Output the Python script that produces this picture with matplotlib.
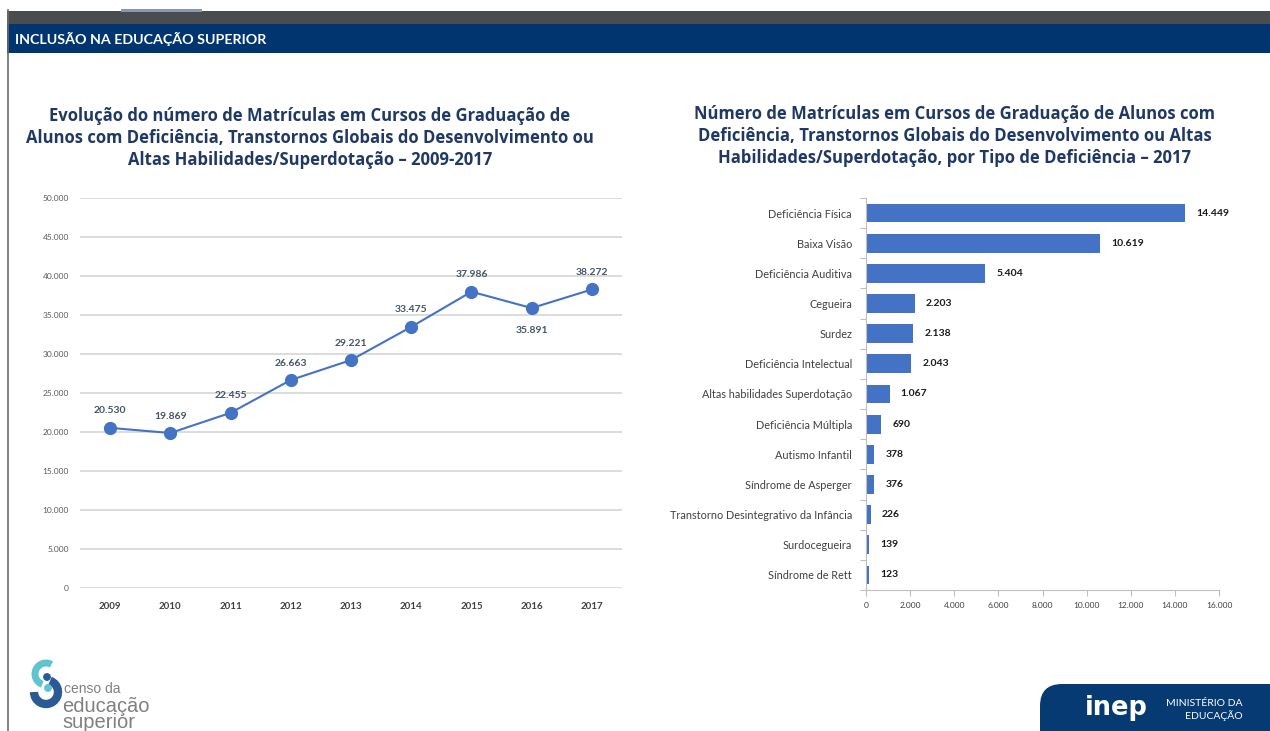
import matplotlib
matplotlib.use("Agg")
import matplotlib.pyplot as plt
from matplotlib.patches import Rectangle, FancyBboxPatch, Arc, Circle
import numpy as np

plt.rcParams['font.family'] = ['Lato', 'DejaVu Sans']

# ---- data ----
years = ["2009", "2010", "2011", "2012", "2013", "2014", "2015", "2016", "2017"]
matriculas = [20530, 19869, 22455, 26663, 29221, 33475, 37986, 35891, 38272]
year_labels = ["20.530", "19.869", "22.455", "26.663", "29.221", "33.475", "37.986", "35.891", "38.272"]

tipos = ["Deficiência Física", "Baixa Visão", "Deficiência Auditiva", "Cegueira", "Surdez",
         "Deficiência Intelectual", "Altas habilidades Superdotação", "Deficiência Múltipla",
         "Autismo Infantil", "Síndrome de Asperger", "Transtorno Desintegrativo da Infância",
         "Surdocegueira", "Síndrome de Rett"]
tipo_vals = [14449, 10619, 5404, 2203, 2138, 2043, 1067, 690, 378, 376, 226, 139, 123]
tipo_labels = ["14.449", "10.619", "5.404", "2.203", "2.138", "2.043", "1.067", "690", "378",
               "376", "226", "139", "123"]

left_yticks = [0, 5000, 10000, 15000, 20000, 25000, 30000, 35000, 40000, 45000, 50000]
right_xticks = [0, 2000, 4000, 6000, 8000, 10000, 12000, 14000, 16000]

def fmt(v):
    return f"{v:,}".replace(",", ".")

W, H = 1270, 731
fig = plt.figure(figsize=(W / 100, H / 100), dpi=100)
fig.patch.set_facecolor("white")

def fx(px):
    return px / W

def fy(py):
    return 1 - py / H

# ---- slide chrome ----
bg = fig.add_axes([0, 0, 1, 1], zorder=0)
bg.set_xlim(0, W)
bg.set_ylim(H, 0)
bg.axis("off")
bg.add_patch(Rectangle((7, 11), W - 7, 13, color="#4a4d50", lw=0))
bg.add_patch(Rectangle((121, 9), 81, 3, color="#8a93b8", lw=0))
bg.add_patch(Rectangle((7, 24), W - 7, 29, color="#003570", lw=0))
bg.plot([7.5, 7.5], [10, H], color="#6b6b6b", lw=1.2)
bg.text(15, 39, "INCLUSÃO NA EDUCAÇÃO SUPERIOR", color="white", fontsize=10.3,
        fontweight="bold", va="center", ha="left")

# INEP footer tab
bg.add_patch(FancyBboxPatch((1040, 684), 280, 80, boxstyle="round,pad=0,rounding_size=22",
                            color="#063a72", lw=0))
bg.text(1116, 708, "inep", color="white", fontsize=18.5, fontweight="bold",
        ha="center", va="center", family="DejaVu Sans")
bg.text(1243, 704, "MINISTÉRIO DA", color="white", fontsize=7.5, ha="right", va="center")
bg.text(1243, 716, "EDUCAÇÃO", color="white", fontsize=7.5, ha="right", va="center")

# censo logo
bg.add_patch(Arc((46, 674), 22, 22, theta1=110, theta2=300, color="#5fc3d0", lw=5))
bg.add_patch(Arc((46, 692), 24, 24, theta1=-70, theta2=180, color="#2a5a95", lw=6))
bg.add_patch(Circle((47, 677), 3.2, color="#2a5a95"))
bg.add_patch(Circle((48, 688), 3.2, color="#5fc3d0"))
bg.text(64, 689, "censo da", color="#808080", fontsize=10, ha="left", va="center",
        family="Liberation Sans")
bg.text(62, 714, "educação\nsuperior", color="#808080", fontsize=14.5, ha="left",
        va="center", family="Liberation Sans", linespacing=0.8)

title_color = "#1f3864"
fig.text(fx(310), fy(138), "Evolução do número de Matrículas em Cursos de Graduação de\n"
         "Alunos com Deficiência, Transtornos Globais do Desenvolvimento ou\n"
         "Altas Habilidades/Superdotação – 2009-2017",
         ha="center", va="center", fontsize=12, fontweight="bold", color=title_color,
         linespacing=1.3, family="Open Sans")
fig.text(fx(955), fy(136), "Número de Matrículas em Cursos de Graduação de Alunos com\n"
         "Deficiência, Transtornos Globais do Desenvolvimento ou Altas\n"
         "Habilidades/Superdotação, por Tipo de Deficiência – 2017",
         ha="center", va="center", fontsize=12, fontweight="bold", color=title_color,
         linespacing=1.3, family="Open Sans")

# ---- left line chart ----
ax1 = fig.add_axes([fx(80), fy(588), fx(622) - fx(80), fy(198) - fy(588)], zorder=2)
ax1.set_facecolor("none")
x = np.arange(len(years))
ax1.set_xlim(-0.5, len(years) - 0.5)
ax1.set_ylim(0, 50000)
ax1.set_yticks(left_yticks)
ax1.set_yticklabels([fmt(v) for v in left_yticks], fontsize=6, color="#595959")
ax1.set_xticks(x)
ax1.set_xticklabels(years, fontsize=7, color="#404040", fontweight="bold")
ax1.grid(axis="y", color="#d9d9d9", lw=1.3)
ax1.set_axisbelow(True)
for s in ax1.spines.values():
    s.set_visible(False)
ax1.tick_params(length=0, pad=8)
ax1.tick_params(axis="x", pad=10)
ax1.plot(x, matriculas, color="#4472c4", lw=1.5, marker="o", ms=8.5, zorder=3)
for i, (v, lab) in enumerate(zip(matriculas, year_labels)):
    if i == 7:
        ax1.annotate(lab, (i, v), xytext=(0, -13), textcoords="offset points", ha="center",
                     va="top", fontsize=7.5, fontweight="bold", color="#44546a")
    else:
        ax1.annotate(lab, (i, v), xytext=(0, 9), textcoords="offset points", ha="center",
                     va="bottom", fontsize=7.5, fontweight="bold", color="#44546a")

# ---- right bar chart ----
ax2 = fig.add_axes([fx(866), fy(590), fx(1219) - fx(866), fy(198) - fy(590)], zorder=2)
y = np.arange(len(tipos))
ax2.barh(y, tipo_vals, height=0.62, color="#4472c4")
ax2.set_ylim(len(tipos) - 0.5, -0.5)
ax2.set_xlim(0, 16000)
ax2.set_xticks(right_xticks)
ax2.set_xticklabels([fmt(v) for v in right_xticks], fontsize=6, color="#404040")
ax2.set_yticks(np.arange(len(tipos) + 1) - 0.5)
ax2.set_yticklabels([])
ax2.set_yticks(y, minor=True)
ax2.set_yticklabels(tipos, minor=True, fontsize=7.8, color="#404040")
ax2.tick_params(axis="y", which="minor", length=0, pad=10)
ax2.tick_params(axis="y", which="major", length=4, color="#bfbfbf")
ax2.tick_params(axis="x", length=4, color="#bfbfbf", pad=5)
for s in ["top", "right"]:
    ax2.spines[s].set_visible(False)
for s in ["left", "bottom"]:
    ax2.spines[s].set_color("#bfbfbf")
for i, (v, lab) in enumerate(zip(tipo_vals, tipo_labels)):
    ax2.annotate(lab, (v, i), xytext=(8, 0), textcoords="offset points", ha="left",
                 va="center", fontsize=7.5, fontweight="bold", color="#1a1a1a")

fig.savefig("out.png", dpi=100, facecolor="white")
